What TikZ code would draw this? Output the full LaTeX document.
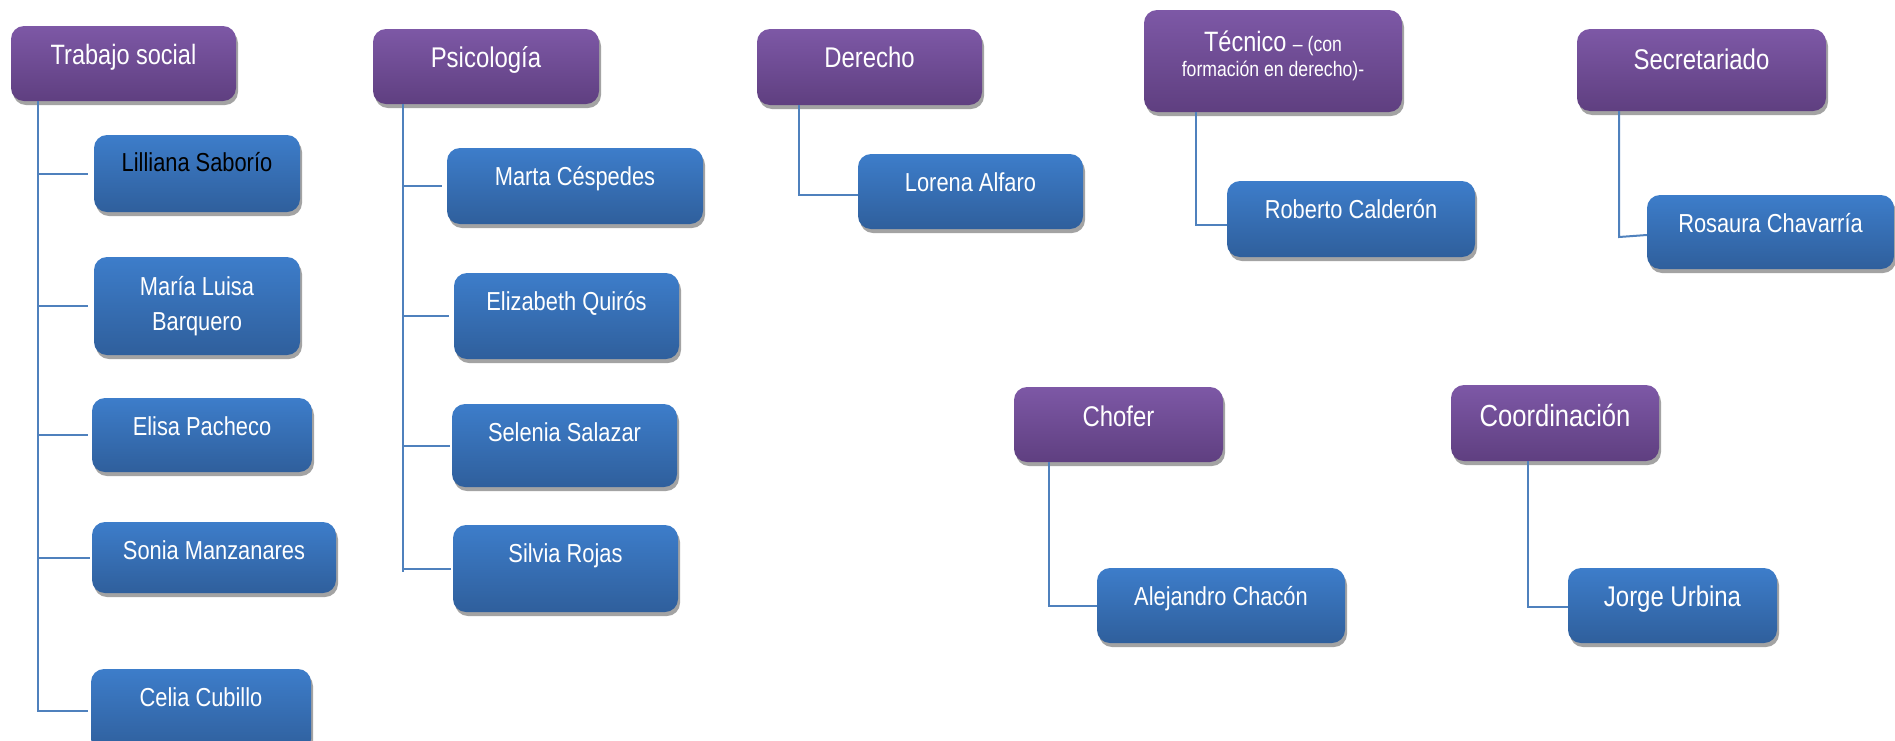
\documentclass[tikz,border=0pt]{standalone}
\usepackage{fontspec}
\setmainfont{Liberation Sans}[FakeStretch=0.84]
\usetikzlibrary{shadows}
\definecolor{purT}{HTML}{7D58A6}
\definecolor{purB}{HTML}{5F3F80}
\definecolor{bluT}{HTML}{3D7DCA}
\definecolor{bluB}{HTML}{2F5F9C}
\definecolor{lnc}{HTML}{4F81BD}
\tikzset{
  boxbase/.style={rectangle, rounded corners=13pt, inner sep=0pt, draw=none,
    drop shadow={shadow xshift=2pt, shadow yshift=-4pt, fill=black!40, opacity=0.9}},
  headbox/.style={boxbase, top color=purT, bottom color=purB},
  namebox/.style={boxbase, top color=bluT, bottom color=bluB},
  nametext/.style={anchor=base, text=white, inner sep=0pt, font=\fontsize{26}{30}\selectfont},
  headtext/.style={anchor=base, text=white, inner sep=0pt, font=\fontsize{28.5}{32}\selectfont},
  conn/.style={draw=lnc, line width=2pt},
}
\newcommand\orgbox[6]{%
  \node[#6, minimum width={(#4)-(#2)}, minimum height={(#5)-(#3)}] (#1)
    at ({((#2)+(#4))/2},{((#3)+(#5))/2}) {};}
\begin{document}
\begin{tikzpicture}[x=1pt,y=-1pt]
\useasboundingbox (0,0) rectangle (1895,740);
% ---------------- boxes ----------------
\orgbox{ts}{11}{26}{236}{101}{headbox}
\orgbox{li}{94}{135}{300}{212}{namebox}
\orgbox{ml}{94}{257}{300}{355}{namebox}
\orgbox{ep}{92}{398}{312}{472}{namebox}
\orgbox{sm}{92}{522}{336}{593}{namebox}
\orgbox{ce}{91}{669}{311}{752}{namebox}
\orgbox{ps}{373}{29}{599}{104}{headbox}
\orgbox{mc}{447}{148}{703}{224}{namebox}
\orgbox{eq}{454}{273}{679}{359}{namebox}
\orgbox{ss}{452}{404}{677}{487}{namebox}
\orgbox{sr}{453}{525}{678}{612}{namebox}
\orgbox{de}{757}{29}{982}{105}{headbox}
\orgbox{lo}{858}{154}{1083}{229}{namebox}
\orgbox{te}{1144}{10}{1402}{112}{headbox}
\orgbox{ro}{1227}{181}{1475}{257}{namebox}
\orgbox{se}{1577}{29}{1826}{111}{headbox}
\orgbox{rc}{1647}{195}{1894}{269}{namebox}
\orgbox{ch}{1014}{387}{1223}{462}{headbox}
\orgbox{ac}{1097}{568}{1345}{643}{namebox}
\orgbox{co}{1451}{385}{1659}{461}{headbox}
\orgbox{ju}{1568}{568}{1777}{643}{namebox}
% ---------------- texts ----------------
\node[headtext, font=\fontsize{28}{32}\selectfont] (ts-t) at ([yshift=-39pt]ts.north) {Trabajo social};
\node[nametext, text=black] (li-t) at ([yshift=-37pt]li.north) {Lilliana Saborío};
\node[nametext] (ml-t1) at ([yshift=-39pt]ml.north) {María Luisa};
\node[nametext] (ml-t2) at ([yshift=-74pt]ml.north) {Barquero};
\node[nametext] (ep-t) at ([yshift=-38pt]ep.north) {Elisa Pacheco};
\node[nametext] (sm-t) at ([yshift=-38pt]sm.north) {Sonia Manzanares};
\node[nametext] (ce-t) at ([yshift=-38pt]ce.north) {Celia Cubillo};
\node[headtext] (ps-t) at ([yshift=-39pt]ps.north) {Psicología};
\node[nametext] (mc-t) at ([yshift=-38pt]mc.north) {Marta Céspedes};
\node[nametext] (eq-t) at ([yshift=-38pt]eq.north) {Elizabeth Quirós};
\node[nametext] (ss-t) at ([yshift=-38pt]ss.north) {Selenia Salazar};
\node[nametext] (sr-t) at ([yshift=-38pt]sr.north) {Silvia Rojas};
\node[headtext] (de-t) at ([yshift=-39pt]de.north) {Derecho};
\node[nametext] (lo-t) at ([yshift=-38pt]lo.north) {Lorena Alfaro};
\node[headtext] (te-t1) at ([yshift=-42pt]te.north) {\fontsize{28}{32}\selectfont Técnico {\fontsize{21}{24}\selectfont – (con}};
\node[headtext, font=\fontsize{21}{24}\selectfont] (te-t2) at ([yshift=-67pt]te.north) {formación en derecho)-};
\node[nametext] (ro-t) at ([yshift=-38pt]ro.north) {Roberto Calderón};
\node[headtext] (se-t) at ([yshift=-41pt]se.north) {Secretariado};
\node[nametext] (rc-t) at ([yshift=-38pt]rc.north) {Rosaura Chavarría};
\node[headtext] (ch-t) at ([yshift=-40pt]ch.north) {Chofer};
\node[nametext] (ac-t) at ([yshift=-38pt]ac.north) {Alejandro Chacón};
\node[headtext, font=\fontsize{30.5}{34}\selectfont] (co-t) at ([yshift=-42pt]co.north) {Coordinación};
\node[nametext, font=\fontsize{28.5}{32}\selectfont] (ju-t) at ([yshift=-39pt]ju.north) {Jorge Urbina};
% ---------------- trunks ----------------
\coordinate (tsx) at (38,0);
\coordinate (psx) at (403,0);
\coordinate (dex) at (799,0);
\coordinate (tex) at (1196,0);
\coordinate (sex) at (1619,0);
\coordinate (chx) at (1049,0);
\coordinate (cox) at (1528,0);
% Trabajo social
\draw[conn] (ts.south -| tsx) -- (ce.west -| tsx) -- ([xshift=-3pt]ce.west);
\draw[conn] (li.west -| tsx) -- ([xshift=-6pt]li.west);
\draw[conn] (ml.west -| tsx) -- ([xshift=-6pt]ml.west);
\draw[conn] (ep.west -| tsx) -- ([xshift=-4pt]ep.west);
\draw[conn] (sm.west -| tsx) -- ([xshift=-2pt]sm.west);
% Psicologia
\draw[conn] (ps.south -| psx) -- ([yshift=-3pt]sr.west -| psx);
\draw[conn] (mc.west -| psx) -- ([xshift=-5pt]mc.west);
\draw[conn] (eq.west -| psx) -- ([xshift=-5pt]eq.west);
\draw[conn] (ss.west -| psx) -- ([xshift=-2pt]ss.west);
\draw[conn] (sr.west -| psx) -- ([xshift=-2pt]sr.west);
% single children
\draw[conn] (de.south -| dex) -- ([yshift=-3pt]lo.west -| dex) -- ([yshift=-3pt]lo.west);
\draw[conn] (te.south -| tex) -- ([yshift=-6pt]ro.west -| tex) -- ([yshift=-6pt]ro.west);
\draw[conn] (se.south -| sex) -- ([yshift=-5pt]rc.west -| sex) -- ([yshift=-3pt]rc.west);
\draw[conn] (ch.south -| chx) -- (ac.west -| chx) -- (ac.west);
\draw[conn] (co.south -| cox) -- ([yshift=-1pt]ju.west -| cox) -- ([yshift=-1pt]ju.west);
\end{tikzpicture}
\end{document}
